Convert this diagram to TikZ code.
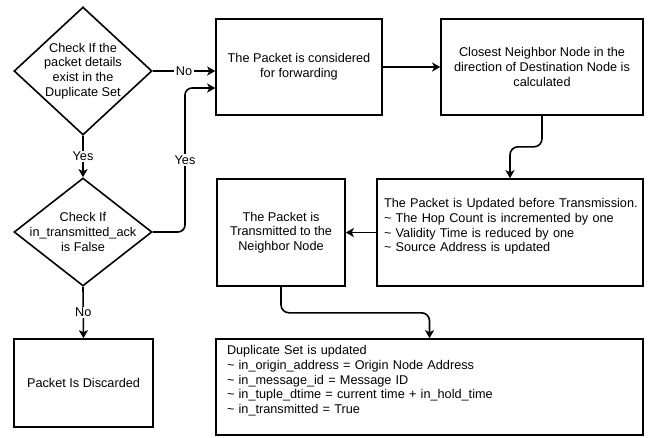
\documentclass[tikz,border=0pt]{standalone}
\usepackage{fontspec}
\setmainfont{Liberation Sans}
\usetikzlibrary{shapes.geometric,arrows.meta}
\begin{document}
\begin{tikzpicture}[x=1pt, y=-1pt, every node/.style={font=\fontsize{12.7}{14.7}\selectfont, align=center}]
\tikzset{box/.style={draw, line width=1.6pt, inner sep=0pt},
  decision/.style={diamond, draw, line width=1.6pt, inner sep=0pt},
  arr/.style={line width=1.6pt, -{Stealth[length=8pt,width=9pt,inset=2pt]}},
  lbl/.style={fill=white, inner sep=1.5pt}}
\useasboundingbox (0,0) rectangle (651,437);
% checks on the left
\node[decision, minimum width=138, minimum height=128] (dupchk) at (83,71) {};
\node (dupchktext) at (dupchk) {Check If the\\packet details\\exist in the\\Duplicate Set};
\node[decision, minimum width=138, minimum height=108] (ackchk) at (83,232) {};
\node (ackchktext) at (ackchk) {Check If\\in\_transmitted\_ack\\is False};
\node[box, minimum width=139, minimum height=88] (discard) at (83.5,383) {Packet Is Discarded};
% top row
\node[box, minimum width=166, minimum height=96] (fwd) at (299,67) {The Packet is considered\\for forwarding};
\node[box, minimum width=202, minimum height=96] (near) at (542,67) {Closest Neighbor Node in the\\direction of Destination Node is\\calculated};
% middle row
\node[box, minimum width=128, minimum height=107] (trans) at (281,232.5) {The Packet is\\Transmitted to the\\Neighbor Node};
\node[box, align=left, text width=260, inner xsep=3pt, minimum height=107] (upd) at (510,232.5)
  {\hspace*{4pt}The Packet is Updated before Transmission.\\\hspace*{4pt}\textasciitilde{} The Hop Count is incremented by one\\\hspace*{4pt}\textasciitilde{} Validity Time is reduced by one\\\hspace*{4pt}\textasciitilde{} Source Address is updated\\\mbox{}};
% bottom row
\node[box, align=left, text width=405, inner xsep=11pt, minimum height=96] (dupset) at (429.5,387)
  {Duplicate Set is updated\\\textasciitilde{} in\_origin\_address = Origin Node Address\\\textasciitilde{} in\_message\_id = Message ID\\\textasciitilde{} in\_tuple\_dtime = current time + in\_hold\_time\\\textasciitilde{} in\_transmitted = True\\\mbox{}};
% connectors
\coordinate (yesturn) at (185,88);
\draw[arr] (dupchk.east) -- node[lbl]{No} (dupchk.east -| fwd.west);
\draw[arr] (dupchk.south) -- node[lbl]{Yes} (ackchk.north);
\draw[arr, rounded corners=7pt] (ackchk.east) -| node[lbl, pos=0.75]{Yes} (yesturn) -- (yesturn -| fwd.west);
\draw[arr] (ackchk.south) -- node[lbl]{No} (discard.north);
\draw[arr] (fwd.east) -- (near.west);
\draw[arr, rounded corners=8pt] (near.south) -- ++(0,31) -| (upd.north);
\draw[arr] (upd.west) -- (trans.east);
\draw[arr, rounded corners=8pt] (trans.south) -- ++(0,26) -| (dupset.north);
\end{tikzpicture}
\end{document}
